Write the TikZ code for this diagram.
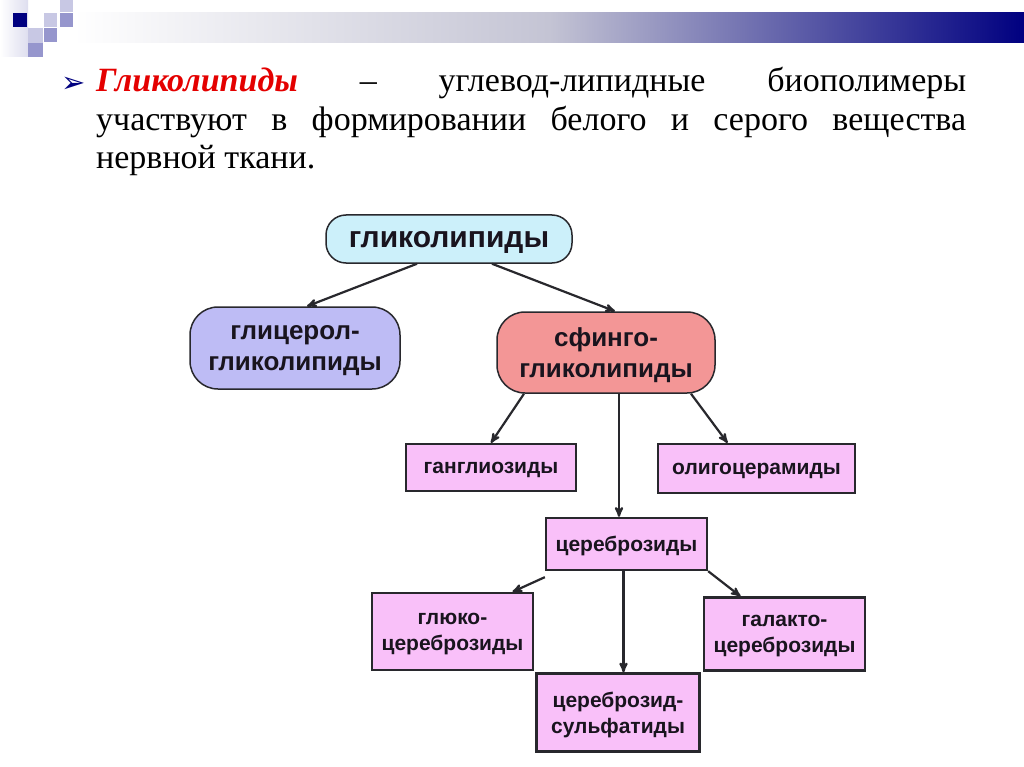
\documentclass[tikz,border=0pt]{standalone}
\usepackage{fontspec}
\setmainfont{Liberation Serif}
\newfontfamily\boxfont{Liberation Sans}
\newfontfamily\symfont{DejaVu Sans}
\usetikzlibrary{positioning,arrows}
\definecolor{headnavy}{RGB}{0,0,128}
\definecolor{barmid}{RGB}{196,196,212}
\definecolor{sqpale}{RGB}{200,200,228}
\definecolor{sqmid}{RGB}{150,150,205}
\definecolor{titlered}{RGB}{228,0,0}
\definecolor{cyanbox}{RGB}{204,240,250}
\definecolor{lavbox}{RGB}{190,188,245}
\definecolor{salmonbox}{RGB}{243,150,150}
\definecolor{pinkbox}{RGB}{249,192,249}
\definecolor{boxline}{RGB}{40,40,45}
\definecolor{boxtext}{RGB}{25,20,30}

\begin{document}
\begin{tikzpicture}[x=1pt, y=-1pt,
  every node/.style={inner sep=0pt},
  arrline/.style={draw=boxline, line width=2.2pt, -stealth'},
  rbox/.style={draw=boxline, line width=1.5pt, align=center, text=boxtext, text depth=0pt,
    font={\boxfont\bfseries\fontsize{26}{31}\selectfont}},
  pbox/.style={draw=boxline, line width=2.3pt, fill=pinkbox, align=center, text=boxtext, text depth=0pt,
    font={\boxfont\bfseries\fontsize{21}{26}\selectfont}}]
  \fill[white] (0,0) rectangle (1024,767);
  \useasboundingbox (0,0) rectangle (1024,767);
  \fill[left color=white, right color=headnavy, middle color=barmid] (74,13) rectangle (1024,43);
  \fill[left color=white, right color=sqpale!60] (0,0) rectangle (28,57);
  \fill[headnavy] (13,13) rectangle (27,27);
  \fill[sqpale] (28,28) rectangle (43,43);
  \fill[sqmid] (28,43) rectangle (43,57);
  \fill[sqpale] (44,13) rectangle (57,27);
  \fill[sqmid] (44,28) rectangle (57,42);
  \fill[sqpale] (60,0) rectangle (73,12);
  \fill[sqmid] (60,13) rectangle (73,27);

  \node[anchor=base west, font={\symfont\fontsize{29}{29}\selectfont}, text=headnavy] (bullet) at (61,93) {➢};
  \node[anchor=base west, font=\fontsize{34}{38}\selectfont] (line1) at (96,92)
    {\makebox[870pt][s]{\textcolor{titlered}{\textbf{\textit{Гликолипиды}}} – углевод-липидные биополимеры}};
  \node[anchor=base west, font=\fontsize{34}{38}\selectfont] (line2) at (96,131)
    {\makebox[870pt][s]{участвуют в формировании белого и серого вещества}};
  \node[anchor=base west, font=\fontsize{34}{38}\selectfont] (line3) at (96,169) {нервной ткани.};

  \node[rbox, fill=cyanbox, minimum width=246pt, minimum height=48pt, rounded corners=20pt,
    font={\boxfont\bfseries\fontsize{30}{34}\selectfont}] (glyco) at (449,239) {гликолипиды};
  \node[rbox, fill=lavbox, minimum width=210pt, minimum height=82pt, rounded corners=28pt] (glycerol) at (295,348) {глицерол-\\гликолипиды};
  \node[rbox, fill=salmonbox, minimum width=218pt, minimum height=81pt, rounded corners=28pt] (sphingo) at (606,352.5) {сфинго-\\гликолипиды};
  \node[pbox, minimum width=170pt, minimum height=47pt] (gangl) at (491,467.5) {ганглиозиды};
  \node[pbox, minimum width=197pt, minimum height=49pt] (oligo) at (756.5,468.5) {олигоцерамиды};
  \node[pbox, minimum width=161pt, minimum height=52pt] (cereb) at (626.5,544) {цереброзиды};
  \node[pbox, minimum width=161pt, minimum height=77pt] (gluco) at (452.5,631.5) {глюко-\\цереброзиды};
  \node[pbox, minimum width=161pt, minimum height=73pt] (galacto) at (784.5,634) {галакто-\\цереброзиды};
  \node[pbox, minimum width=163pt, minimum height=78pt] (sulfat) at (618,712.5) {цереброзид-\\сульфатиды};

  \draw[arrline] ([xshift=-32pt]glyco.south) -- ([xshift=12pt]glycerol.north);
  \draw[arrline] ([xshift=43pt]glyco.south) -- ([xshift=9pt]sphingo.north);
  \draw[arrline] ([xshift=-82pt]sphingo.south) -- (gangl.north);
  \draw[arrline] ([xshift=13pt]sphingo.south) -- ([xshift=13pt]sphingo.south |- cereb.north);
  \draw[arrline] ([xshift=85pt]sphingo.south) -- ([xshift=-29pt]oligo.north);
  \draw[arrline] ([yshift=-6pt]cereb.south west) -- ([xshift=60pt]gluco.north);
  \draw[arrline] ([xshift=-3pt]cereb.south) -- ([xshift=-3pt]cereb.south |- sulfat.north);
  \draw[arrline] (cereb.south east) -- ([xshift=-44pt]galacto.north);
\end{tikzpicture}
\end{document}
